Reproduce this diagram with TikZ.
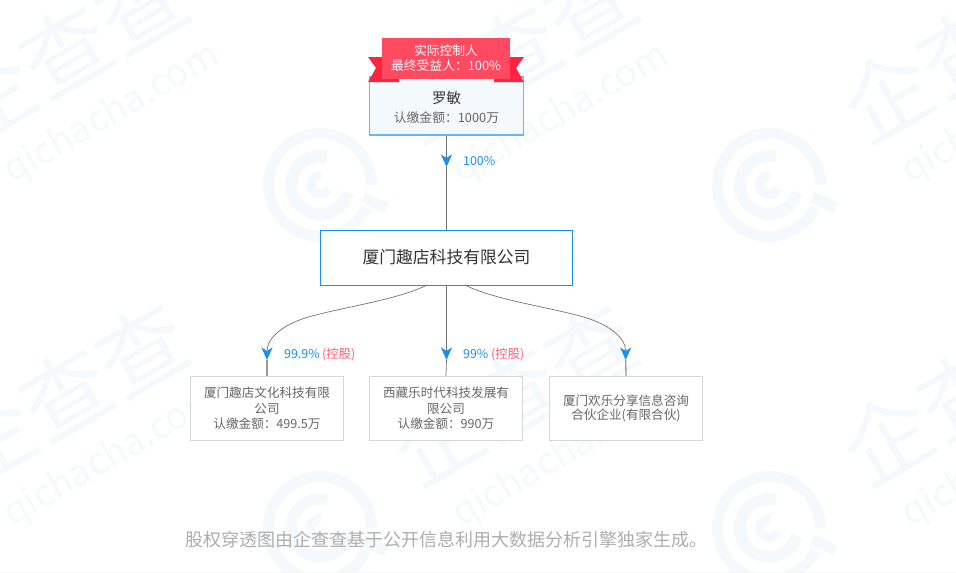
\documentclass[tikz,border=0pt]{standalone}
\usepackage{fontspec}
\setmainfont{Noto Sans CJK SC}
\usetikzlibrary{arrows.meta}
\definecolor{markcolor}{HTML}{F4F9FE}
\definecolor{linkblue}{HTML}{1A8FEE}
\definecolor{holdred}{HTML}{FF6078}
\definecolor{ribbonred}{HTML}{FF4A62}
\definecolor{tailred}{HTML}{FF233F}
\definecolor{textgray}{HTML}{666666}
\tikzset{
  topbox/.style={draw=linkblue!65,line width=1.2pt,fill=linkblue!5,minimum width=154pt,minimum height=58pt,inner sep=0pt},
  midbox/.style={draw=linkblue,line width=1pt,fill=white,text=black!80,minimum width=252pt,minimum height=55pt,inner sep=0pt,font=\fontsize{16.8}{20}\selectfont},
  subbox/.style={draw=black!16,line width=1.3pt,fill=white,text=textgray,minimum width=153pt,minimum height=64pt,inner sep=0pt,align=center,font=\fontsize{12.6}{15.5}\selectfont},
  ribbon/.style={fill=ribbonred,text=white,minimum width=128pt,minimum height=41pt,inner sep=0pt,align=center,font=\fontsize{12.8}{15}\selectfont},
  pctlabel/.style={inner sep=0pt,anchor=west,text=linkblue,font=\fontsize{12.4}{15}\selectfont},
  holdlabel/.style={inner sep=0pt,anchor=west,text=holdred,font=\fontsize{12.4}{15}\selectfont},
  link/.style={draw=black!55,line width=0.7pt},
  linktip/.style={link,-{Stealth[inset=3.5pt,length=12.5pt,width=11pt,color=linkblue]}},
  stub/.style={draw=black!40,line width=1.3pt},
  markring/.style={draw=markcolor,line width=#1},
  marktext/.style={text=markcolor,rotate=30,inner sep=0pt}
}
\begin{document}
\begin{tikzpicture}[x=1pt,y=-1pt]
  \useasboundingbox (0,0) rectangle (956,573);
  \begin{scope}
    \clip (0,0) rectangle (956,573);
    \foreach \lx/\ly in {320/185,769/185,320/528,769/528}{
      \draw[markring=11pt] (\lx,\ly) ++(0:51.5pt) arc[start angle=0,end angle=334,radius=51.5pt];
      \draw[markring=12pt] (\lx,\ly) ++(76:29pt) arc[start angle=76,end angle=345,radius=29pt];
      \draw[markring=9pt] (\lx,\ly) ++(82:9.5pt) arc[start angle=82,end angle=337,radius=9.5pt];
      \draw[markring=11pt] (\lx+43,\ly+12) -- (\lx+67,\ly+23);
    }
    \foreach \lx/\ly in {-129/185,320/185,769/185,-129/528,320/528,769/528}{
      \node[marktext,font=\fontsize{88}{88}\selectfont] at (\lx+194,\ly-135) {企查查};
      \node[marktext,font=\fontsize{37}{37}\selectfont] at (\lx+241,\ly-71) {qichacha.com};
    }
  \end{scope}
  \draw[draw=black!4,line width=1pt] (0,572) -- (956,572);
  \draw
    (446.5,106) node[topbox] (person){}
    (446.5,257.5) node[midbox] (company){厦门趣店科技有限公司}
    (267,408.5) node[subbox] (culture){厦门趣店文化科技有限\\公司\\认缴金额：499.5万}
    (446,408.5) node[subbox] (tibet){西藏乐时代科技发展有\\限公司\\认缴金额：990万}
    (626,408.5) node[subbox,font=\fontsize{12.6}{14}\selectfont] (share){厦门欢乐分享信息咨询\\合伙企业(有限合伙)};
  \fill[tailred] (368,57) -- (376,68) -- (368,82) -- (399,82) -- (399,57) -- cycle;
  \fill[tailred] (524,57) -- (516,68) -- (524,82) -- (494,82) -- (494,57) -- cycle;
  \draw
    (446,58.5) node[ribbon] (badge){实际控制人\\最终受益人：100\%}
    (446.5,98) node[inner sep=0pt,text=black!80,font=\fontsize{14.5}{18}\selectfont] (name){罗敏}
    (446.5,118) node[inner sep=0pt,text=textgray,font=\fontsize{12.8}{16}\selectfont] (paid){认缴金额：1000万}
    (463,161) node[pctlabel] (pcta){100\%}
    (284,354) node[pctlabel] (pctb){99.9\%}
    (322,354) node[holdlabel] (holdb){(控股)}
    (463,354) node[pctlabel] (pctc){99\%}
    (491,354) node[holdlabel] (holdc){(控股)};
  \coordinate (tipa) at (446.5,167);
  \coordinate (tipb) at (267,360);
  \coordinate (tipc) at (446.5,360);
  \coordinate (tipd) at (625.7,360);
  \coordinate (outb) at (427,285);
  \coordinate (outd) at (465,285);
  \coordinate (bendb) at (312,316);
  \coordinate (bendd) at (580,316);
  \begin{scope}
    \draw[linktip] (person.south) -- (tipa);
    \draw[link] (tipa) -- (company.north);
    \draw[link] (outb) .. controls (400,299) and (345,307) .. (bendb);
    \draw[linktip] (bendb) .. controls (285,323) and (267,337) .. (tipb);
    \draw[stub] (tipb) -- (culture.north);
    \draw[linktip] (company.south) -- (tipc);
    \draw[link] (tipc) -- (tibet.north);
    \draw[link] (outd) .. controls (492,299) and (547,307) .. (bendd);
    \draw[linktip] (bendd) .. controls (607,323) and (625.7,337) .. (tipd);
    \draw[stub] (tipd) -- (share.north);
  \end{scope}
  \node[inner sep=0pt,text=black!32,font=\fontsize{18}{22}\selectfont] (note) at (446,540) {股权穿透图由企查查基于公开信息利用大数据分析引擎独家生成。};
\end{tikzpicture}
\end{document}
